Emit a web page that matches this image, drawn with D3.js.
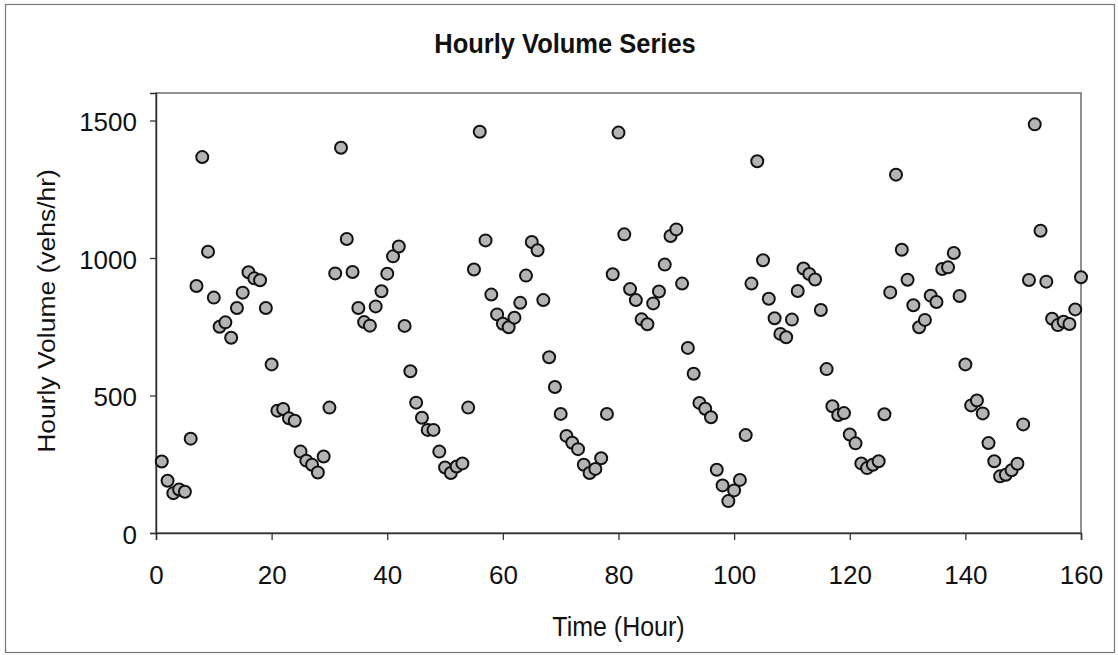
<!DOCTYPE html>
<html>
<head>
<meta charset="utf-8">
<script src="https://cdn.jsdelivr.net/npm/d3@7"></script>
<style>
  html, body { margin: 0; padding: 0; background: #fff; }
  svg { display: block; font-family: "Liberation Sans", Arial, sans-serif; }
</style>
</head>
<body>
<svg width="1118" height="655"></svg>
<script>
const svg_ = d3.select('svg');

const W = 1118;
const H = 655;

// plot area (pixels)
const PLOT = { LEFT: 156, RIGHT: 1081, TOP: 93, BOTTOM: 533 };

// data
const hours = d3.range(1, 161);
const volumes = [
    260, 190, 145, 158, 150, 343, 898, 1367, 1023, 856,
    750, 766, 710, 818, 874, 948, 926, 919, 818, 613,
    445, 451, 417, 408, 296, 263, 248, 220, 278, 456,
    944, 1401, 1069, 949, 818, 767, 754, 824, 879, 943,
    1006, 1042, 753, 588, 474, 419, 375, 375, 296, 238,
    218, 242, 253, 456, 958, 1459, 1064, 867, 795, 761,
    748, 783, 837, 936, 1058, 1028, 847, 639, 531, 433,
    353, 328, 305, 248, 218, 233, 272, 433, 941, 1456,
    1086, 887, 847, 777, 759, 835, 878, 976, 1080, 1104,
    907, 673, 579, 473, 452, 421, 230, 173, 116, 155,
    193, 356, 907, 1352, 992, 852, 781, 724, 712, 776,
    880, 962, 942, 922, 811, 596, 461, 429, 436, 358,
    326, 253, 236, 248, 261, 432, 875, 1303, 1030, 921,
    828, 748, 775, 863, 840, 960, 966, 1018, 862, 613,
    464, 482, 435, 327, 261, 206, 212, 228, 252, 395,
    920, 1486, 1099, 914, 779, 756, 768, 760, 813, 930
];
const xTicks = [0, 20, 40, 60, 80, 100, 120, 140, 160];
const yTicks = [0, 500, 1000, 1500];

const TITLE = "Hourly Volume Series";
const X_LABEL = "Time (Hour)";
const Y_LABEL = "Hourly Volume (vehs/hr)";

const x = d3.scaleLinear().domain([0, 160]).range([PLOT.LEFT, PLOT.RIGHT]);
const y = d3.scaleLinear().domain([0, 1600]).range([PLOT.BOTTOM, PLOT.TOP]);

// outer chart frame
svg_.append("rect")
    .attr("x", 5.5).attr("y", 4.5)
    .attr("width", W - 9).attr("height", H - 7)
    .attr("fill", "none")
    .attr("stroke", "#777")
    .attr("stroke-width", 1.2);

// plot area frame
svg_.append("rect")
    .attr("x", PLOT.LEFT).attr("y", PLOT.TOP)
    .attr("width", PLOT.RIGHT - PLOT.LEFT)
    .attr("height", PLOT.BOTTOM - PLOT.TOP)
    .attr("fill", "none")
    .attr("stroke", "#555")
    .attr("stroke-width", 1.3);

// axes
const xAxis = svg_.append("g")
    .attr("transform", `translate(0,${PLOT.BOTTOM})`)
    .call(d3.axisBottom(x).tickValues(xTicks).tickSizeOuter(0).tickSize(7).tickFormat(d3.format("d")));

const yAxis = svg_.append("g")
    .attr("transform", `translate(${PLOT.LEFT},0)`)
    .call(d3.axisLeft(y).tickValues(yTicks).tickSizeOuter(0).tickSize(6).tickFormat(d3.format("d")));

[xAxis, yAxis].forEach(a => {
    a.select(".domain").attr("stroke", "#333").attr("stroke-width", 1.5);
    a.selectAll(".tick line").attr("stroke", "#333").attr("stroke-width", 1.3);
    a.selectAll(".tick text")
        .attr("fill", "#111")
        .style("font-size", "26px")
        .style("font-family", '"Liberation Sans", Arial, sans-serif');
});

xAxis.selectAll(".tick text").attr("y", 51).attr("dy", 0);
yAxis.selectAll(".tick text").attr("x", -19).attr("dy", 0).attr("y", 10);

// points
svg_.append("g")
    .selectAll("circle")
    .data(hours.map((h, i) => ({ h: h, v: volumes[i] })))
    .join("circle")
    .attr("cx", d => x(d.h))
    .attr("cy", d => y(d.v))
    .attr("r", 6)
    .attr("fill", "#b4b4b4")
    .attr("stroke", "#111")
    .attr("stroke-width", 2);

// title and axis labels
svg_.append("text")
    .attr("transform", "translate(565,53) scale(1,1.08)")
    .attr("text-anchor", "middle")
    .style("font-size", "25.5px")
    .style("font-weight", "bold")
    .attr("fill", "#111")
    .text(TITLE);

svg_.append("text")
    .attr("transform", `translate(${(PLOT.LEFT + PLOT.RIGHT) / 2},636) scale(1,1.08)`)
    .attr("text-anchor", "middle")
    .style("font-size", "25px")
    .attr("fill", "#111")
    .text(X_LABEL);

svg_.append("text")
    .attr("transform", "translate(55,311) rotate(-90) scale(1.08,1)")
    .attr("text-anchor", "middle")
    .style("font-size", "24.5px")
    .attr("fill", "#111")
    .text(Y_LABEL);
</script>
</body>
</html>
